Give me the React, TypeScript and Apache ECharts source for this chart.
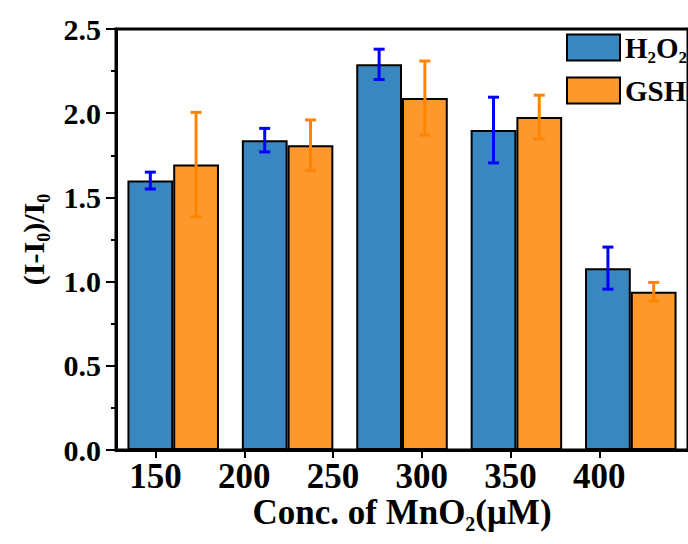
import React, { useEffect, useRef } from "react";
import * as echarts from "echarts";

const categories = ["c1", "c2", "c3", "c4", "c5"];
const tickLabels = [150, 200, 250, 300, 350, 400];
const h2o2 = [1.6, 1.84, 2.29, 1.9, 1.08];
const h2o2Err = [0.05, 0.07, 0.09, 0.195, 0.125];
const gsh = [1.695, 1.81, 2.09, 1.977, 0.94];
const gshErr = [0.31, 0.15, 0.22, 0.13, 0.055];

const FONT = "'Liberation Serif', 'Times New Roman', serif";
const BLUE = "#3987c0";
const ORANGE = "#fc982c";
const EBLUE = "#0000ff";
const EORANGE = "#ff8400";

function errData(vals: number[], errs: number[]) {
  return vals.map((v, i) => [i, v - errs[i], v + errs[i]]);
}

function errSeries(name: string, vals: number[], errs: number[], color: string, frac: number) {
  return {
    type: "custom",
    name,
    xAxisIndex: 0,
    yAxisIndex: 0,
    z: 5,
    encode: { x: 0, y: [1, 2] },
    data: errData(vals, errs),
    renderItem: (params: any, api: any) => {
      const idx = api.value(0);
      const lo = api.value(1);
      const hi = api.value(2);
      const band = api.size([1, 0])[0];
      const cx = api.coord([idx, 0])[0] + frac * band;
      const yT = api.coord([idx, hi])[1];
      const yB = api.coord([idx, lo])[1];
      const h = 5.5;
      const st = { stroke: color, lineWidth: 3 };
      return {
        type: "group",
        children: [
          { type: "line", shape: { x1: cx, y1: yT, x2: cx, y2: yB }, style: st },
          { type: "line", shape: { x1: cx - h, y1: yT, x2: cx + h, y2: yT }, style: st },
          { type: "line", shape: { x1: cx - h, y1: yB, x2: cx + h, y2: yB }, style: st },
        ],
      };
    },
  };
}

export default function App() {
  const ref = useRef<HTMLDivElement>(null);
  useEffect(() => {
    if (!ref.current) return;
    const chart = echarts.init(ref.current, undefined, { renderer: "svg" });
    const bold = { fontFamily: FONT, fontWeight: "bold", color: "#000" };
    chart.setOption({
      animation: false,
      grid: [
        { left: 116, top: 29, width: 575, height: 421, show: true, borderColor: "#000", borderWidth: 3 },
        { left: 155.5, top: 29, width: 540.8, height: 421 },
      ],
      legend: {
        orient: "vertical",
        left: 566,
        top: 33,
        padding: 0,
        itemWidth: 53,
        itemHeight: 26,
        itemGap: 10,
        icon: "rect",
        data: ["H2O2", "GSH"],
        itemStyle: { borderColor: "#000", borderWidth: 2 },
        formatter: (n: string) => (n === "H2O2" ? "{a|H}{s|2}{a|O}{s|2}" : "{a|GSH}"),
        textStyle: {
          ...bold,
          fontSize: 29,
          rich: {
            a: { ...bold, fontSize: 29, lineHeight: 29, verticalAlign: "top" },
            s: { ...bold, fontSize: 17, lineHeight: 17, padding: [16, 0, 0, 0], verticalAlign: "top" },
          },
        },
      },
      xAxis: [
        {
          type: "category",
          gridIndex: 0,
          data: categories,
          axisLine: { show: true, lineStyle: { color: "#000", width: 3 } },
          axisTick: { show: false },
          axisLabel: { show: false },
          splitLine: { show: false },
          name: "{a|Conc. of MnO}{s|2}{a|(μM)}",
          nameLocation: "middle",
          nameGap: 45,
          nameTextStyle: {
            ...bold,
            fontSize: 35,
            rich: {
              a: { ...bold, fontSize: 35, lineHeight: 36, verticalAlign: "top" },
              s: { ...bold, fontSize: 20, lineHeight: 20, padding: [19, 0, 0, 0], verticalAlign: "top" },
            },
          },
        },
        {
          type: "value",
          gridIndex: 1,
          min: 150,
          max: 450,
          interval: 50,
          axisLine: { show: false },
          axisTick: { show: true, inside: false, length: 8, lineStyle: { color: "#000", width: 2 } },
          axisLabel: {
            ...bold,
            fontSize: 35,
            margin: 9,
            showMaxLabel: false,
            formatter: (v: number) => (tickLabels.indexOf(v) >= 0 ? String(v) : ""),
          },
          splitLine: { show: false },
        },
      ],
      yAxis: [
        {
          type: "value",
          gridIndex: 0,
          min: 0,
          max: 2.5,
          interval: 0.5,
          axisLine: { show: true, lineStyle: { color: "#000", width: 3 } },
          axisTick: { show: true, inside: false, length: 10, lineStyle: { color: "#000", width: 2 } },
          minorTick: { show: true, splitNumber: 2, length: 5, lineStyle: { color: "#000", width: 2 } },
          axisLabel: { ...bold, fontSize: 30, margin: 15, formatter: (v: number) => v.toFixed(1) },
          splitLine: { show: false },
          name: "{a|(I-I}{s|0}{a|)/I}{s|0}",
          nameLocation: "middle",
          nameGap: 64,
          nameTextStyle: {
            ...bold,
            fontSize: 30,
            rich: {
              a: { ...bold, fontSize: 30, lineHeight: 30, verticalAlign: "top" },
              s: { ...bold, fontSize: 18, lineHeight: 18, padding: [16, 0, 0, 0], verticalAlign: "top" },
            },
          },
        },
        { type: "value", gridIndex: 1, show: false, min: 0, max: 2.5 },
      ],
      series: [
        {
          type: "bar",
          name: "H2O2",
          xAxisIndex: 0,
          yAxisIndex: 0,
          data: h2o2,
          barWidth: "40%",
          barGap: "0%",
          itemStyle: { color: BLUE, borderColor: "#000", borderWidth: 2 },
        },
        {
          type: "bar",
          name: "GSH",
          xAxisIndex: 0,
          yAxisIndex: 0,
          data: gsh,
          barWidth: "40%",
          barGap: "0%",
          itemStyle: { color: ORANGE, borderColor: "#000", borderWidth: 2 },
        },
        errSeries("e1", h2o2, h2o2Err, EBLUE, -0.2),
        errSeries("e2", gsh, gshErr, EORANGE, 0.2),
      ],
    });
    return () => chart.dispose();
  }, []);
  return <div ref={ref} style={{ width: 688, height: 544, position: "absolute", left: 0, top: 0 }} />;
}
